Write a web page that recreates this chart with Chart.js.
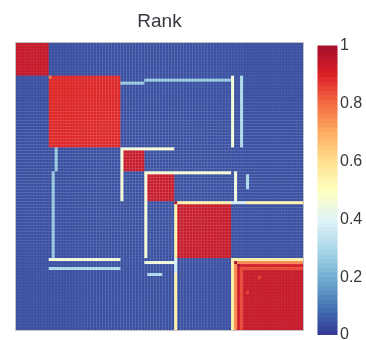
<!DOCTYPE html>
<html>
<head>
<meta charset="utf-8">
<script src="https://cdn.jsdelivr.net/npm/chart.js@4.4.1/dist/chart.umd.min.js"></script>
<style>
  html, body { margin: 0; padding: 0; background: #ffffff; }
  #wrap { width: 366px; height: 340px; }
</style>
</head>
<body>
<div id="wrap"><canvas id="c" width="366" height="340"></canvas></div>
<script>
// Number of items on each side of the rank matrix
const N = 96;
const baseValue = 0.04;

// Diagonal blocks: first index, last index, value
const blockStart = [0, 11, 36, 44, 54, 76];
const blockEnd   = [10, 34, 42, 52, 71, 95];
const blockValue = [0.94, 0.89, 0.94, 0.94, 0.94, 0.94];

// Symmetric bands: row/column index, first and last partner index, value
const bandIndex = [13, 12, 72, 75, 35, 43, 73, 77, 53, 53, 72, 73, 74, 75];
const bandFrom  = [35, 43, 11, 11, 35, 43, 43, 44, 53, 72, 72, 73, 74, 75];
const bandTo    = [42, 71, 34, 34, 52, 71, 52, 48, 95, 76, 95, 95, 95, 95];
const bandValue = [0.26, 0.26, 0.46, 0.30, 0.46, 0.46, 0.45, 0.30, 0.54, 0.38, 0.55, 0.76, 0.92, 0.85];

// Single cells: row, column, value
const spotRow   = [11, 53, 73, 74, 83, 78];
const spotCol   = [11, 53, 73, 74, 77, 81];
const spotValue = [0.78, 0.98, 0.99, 0.99, 0.86, 0.86];

// Colour bar tick labels
const colorbarTicks = [0, 0.2, 0.4, 0.6, 0.8, 1];

// Colour map (blue - white - yellow - red)
const cmapStops  = [0, 0.1, 0.2, 0.3, 0.4, 0.5, 0.6, 0.7, 0.8, 0.9, 1];
const cmapColors = ['#313695', '#4575b4', '#74add1', '#abd9e9', '#e0f3f8', '#ffffbf',
                    '#fee090', '#fdae61', '#f46d43', '#dc1f26', '#a50f2d'];

function hexToRgb(h) {
  return [parseInt(h.slice(1, 3), 16), parseInt(h.slice(3, 5), 16), parseInt(h.slice(5, 7), 16)];
}
const cmapRgb = cmapColors.map(hexToRgb);

function colorFor(v) {
  v = Math.max(0, Math.min(1, v));
  let k = 0;
  while (k < cmapStops.length - 2 && v > cmapStops[k + 1]) k++;
  const t = (v - cmapStops[k]) / (cmapStops[k + 1] - cmapStops[k]);
  const a = cmapRgb[k], b = cmapRgb[k + 1];
  const c = a.map((x, i) => Math.round(x + (b[i] - x) * t));
  return 'rgb(' + c.join(',') + ')';
}

// Assemble the matrix from blocks, bands and single cells
const matrix = [];
for (let i = 0; i < N; i++) matrix.push(new Array(N).fill(baseValue));
blockStart.forEach((s, b) => {
  for (let i = s; i <= blockEnd[b]; i++)
    for (let j = s; j <= blockEnd[b]; j++) matrix[i][j] = blockValue[b];
});
bandIndex.forEach((r, b) => {
  for (let k = bandFrom[b]; k <= bandTo[b]; k++) {
    matrix[r][k] = bandValue[b];
    matrix[k][r] = bandValue[b];
  }
});
spotRow.forEach((r, s) => { matrix[r][spotCol[s]] = spotValue[s]; });

const points = [];
const colors = [];
for (let i = 0; i < N; i++) {
  for (let j = 0; j < N; j++) {
    points.push({ x: j + 0.5, y: i + 0.5, v: matrix[i][j] });
    colors.push(colorFor(matrix[i][j]));
  }
}

// Vertical room is a little taller than the square matrix, for the colour bar
const yMax = N * 292 / 287;
const cbMin = 0;
const cbMax = 1.00864;

function cellRadius(chart) {
  const xs = chart.scales.x;
  const side = xs ? xs.width / N + 0.35 : 3.3;
  return side / Math.SQRT2;
}

const frame = {
  id: 'frame',
  afterDatasetsDraw(chart) {
    const xs = chart.scales.x, ys = chart.scales.y, ctx = chart.ctx;
    const l = xs.getPixelForValue(0), r = xs.getPixelForValue(N);
    const t = ys.getPixelForValue(0), b = ys.getPixelForValue(N);
    ctx.save();
    ctx.strokeStyle = '#c2c2c6';
    ctx.lineWidth = 1;
    ctx.strokeRect(l - 0.5, t - 0.5, r - l + 1, b - t + 1);
    ctx.restore();
  }
};

const colorbar = {
  id: 'colorbar',
  afterDraw(chart) {
    const cb = chart.scales.cb, ctx = chart.ctx;
    const x0 = cb.left + 14.5, w = 20, levels = 64;
    ctx.save();
    for (let k = 0; k < levels; k++) {
      const yTop = cb.getPixelForValue((k + 1) / levels);
      const yBot = cb.getPixelForValue(k / levels);
      ctx.fillStyle = colorFor((k + 0.5) / levels);
      ctx.fillRect(x0, yTop, w, yBot - yTop + (k > 0 ? 0.6 : 0));
    }
    ctx.restore();
  }
};

const fontFamily = "'Liberation Sans', Arial, Helvetica, sans-serif";

new Chart(document.getElementById('c'), {
  type: 'scatter',
  data: {
    datasets: [{
      data: points,
      backgroundColor: colors,
      borderColor: 'rgba(255,255,255,0.12)',
      borderWidth: 0.5,
      pointStyle: 'rect',
      pointRadius: (ctx) => cellRadius(ctx.chart),
      pointHoverRadius: (ctx) => cellRadius(ctx.chart)
    }]
  },
  options: {
    responsive: false,
    animation: false,
    events: [],
    layout: { padding: { left: 16, right: 0, top: 0, bottom: 5 } },
    plugins: {
      legend: { display: false },
      tooltip: { enabled: false },
      title: {
        display: true,
        text: 'Rank',
        fullSize: false,
        color: '#3a3640',
        font: { family: fontFamily, size: 19, weight: 'normal' },
        padding: { top: 10, bottom: 10.2 }
      }
    },
    scales: {
      x: { type: 'linear', min: 0, max: N, display: false },
      y: { type: 'linear', min: 0, max: yMax, reverse: true, display: false },
      cb: {
        type: 'linear',
        position: 'right',
        min: cbMin,
        max: cbMax,
        grid: { display: false, drawTicks: false },
        border: { display: false },
        ticks: {
          padding: 37,
          color: '#383838',
          font: { family: fontFamily, size: 16 },
          callback: (v) => String(v)
        },
        afterBuildTicks: (axis) => { axis.ticks = colorbarTicks.map((v) => ({ value: v })); },
        afterFit: (axis) => {
          // the bar sits beside the matrix; its labels may run past the plot edges
          axis.width = 63;
          axis.paddingTop = 0;
          axis.paddingBottom = 0;
        }
      }
    }
  },
  plugins: [frame, colorbar]
});
</script>
</body>
</html>
